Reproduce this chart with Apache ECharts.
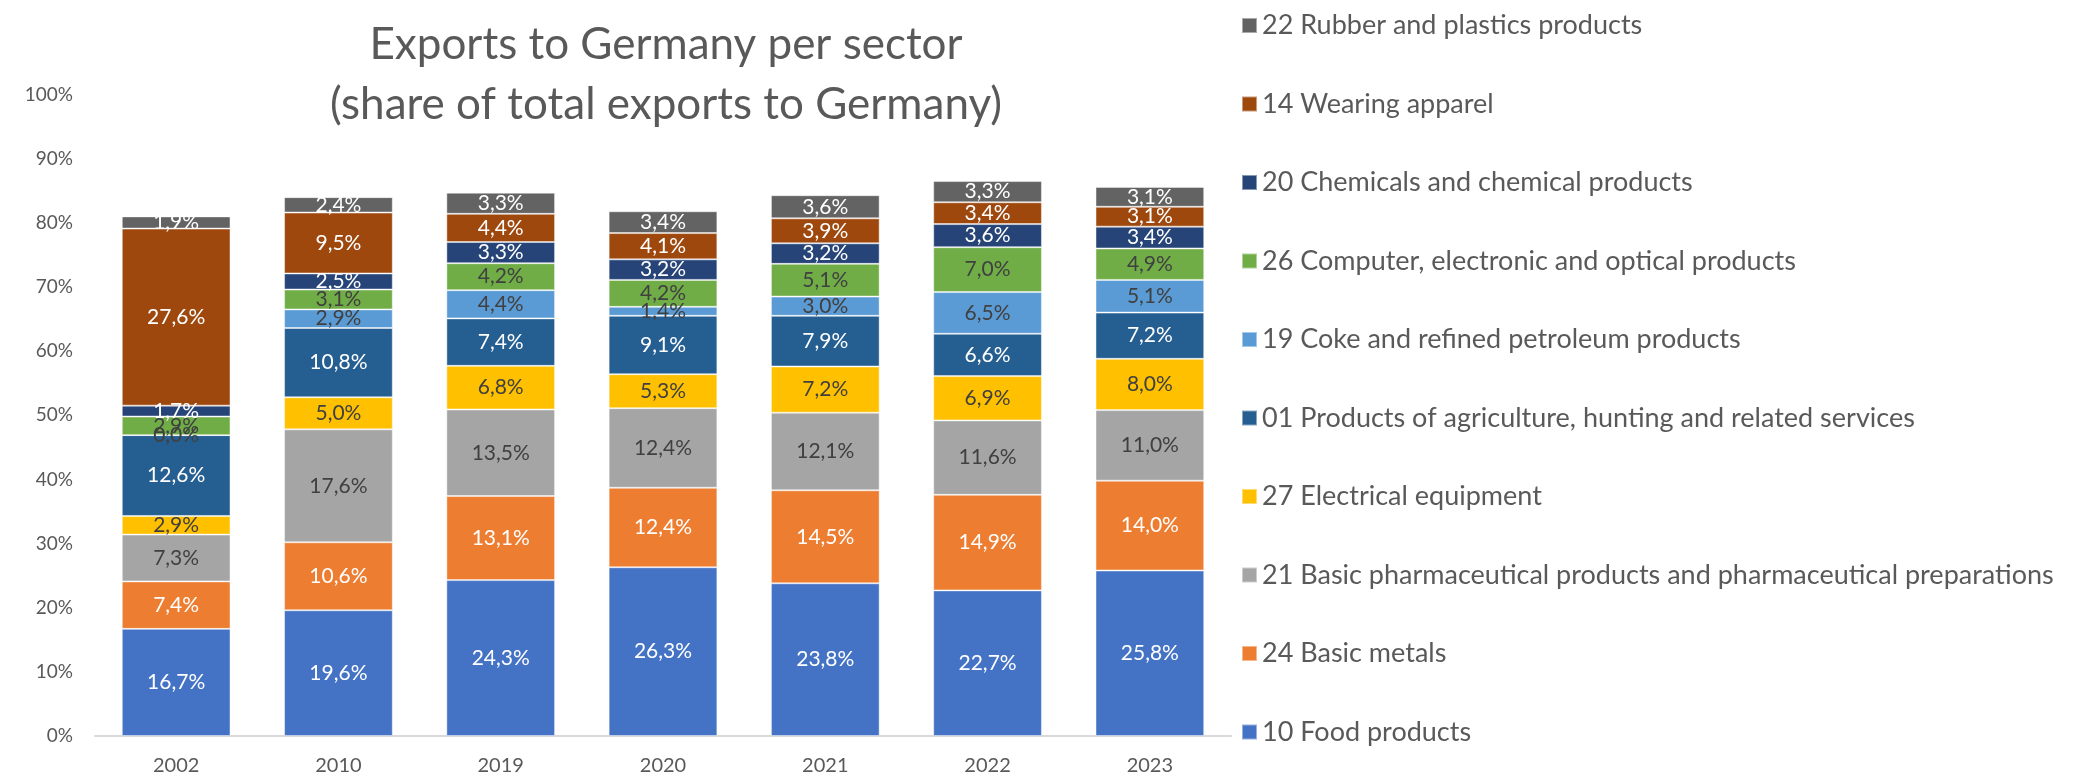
<!DOCTYPE html>
<html>
<head>
<meta charset="utf-8">
<script src="https://cdn.jsdelivr.net/npm/echarts@6/dist/echarts.min.js"></script>
<style>
  html, body { margin: 0; padding: 0; background: #fff; }
  #chart { width: 2087px; height: 781px; }
</style>
</head>
<body>
<div id="chart"></div>
<script>
// years on the x axis
var years = ['2002', '2010', '2019', '2020', '2021', '2022', '2023']

// sector shares (% of total exports to Germany), bottom of stack first
var food = [16.7, 19.6, 24.3, 26.3, 23.8, 22.7, 25.8]
var basicMetals = [7.4, 10.6, 13.1, 12.4, 14.5, 14.9, 14.0]
var pharma = [7.3, 17.6, 13.5, 12.4, 12.1, 11.6, 11.0]
var electrical = [2.9, 5.0, 6.8, 5.3, 7.2, 6.9, 8.0]
var agriculture = [12.6, 10.8, 7.4, 9.1, 7.9, 6.6, 7.2]
var coke = [0.0, 2.9, 4.4, 1.4, 3.0, 6.5, 5.1]
var computer = [2.9, 3.1, 4.2, 4.2, 5.1, 7.0, 4.9]
var chemicals = [1.7, 2.5, 3.3, 3.2, 3.2, 3.6, 3.4]
var apparel = [27.6, 9.5, 4.4, 4.1, 3.9, 3.4, 3.1]
var rubber = [1.9, 2.4, 3.3, 3.4, 3.6, 3.3, 3.1]

var yTicks = [0, 10, 20, 30, 40, 50, 60, 70, 80, 90, 100]

var sectors = [
  { name: '10 Food products', data: food, color: '#4472C4', text: '#ffffff' },
  { name: '24 Basic metals', data: basicMetals, color: '#ED7D31', text: '#ffffff' },
  { name: '21 Basic pharmaceutical products and pharmaceutical preparations', data: pharma, color: '#A5A5A5', text: '#404040' },
  { name: '27 Electrical equipment', data: electrical, color: '#FFC000', text: '#404040' },
  { name: '01 Products of agriculture, hunting and related services', data: agriculture, color: '#255E91', text: '#ffffff' },
  { name: '19 Coke and refined petroleum products', data: coke, color: '#5B9BD5', text: '#404040' },
  { name: '26 Computer, electronic and optical products', data: computer, color: '#70AD47', text: '#404040' },
  { name: '20 Chemicals and chemical products', data: chemicals, color: '#264478', text: '#ffffff' },
  { name: '14 Wearing apparel', data: apparel, color: '#9E480E', text: '#ffffff' },
  { name: '22 Rubber and plastics products', data: rubber, color: '#636363', text: '#ffffff' }
]

var FONT = 'Lato, "Open Sans", sans-serif'

function pct (v) {
  return v.toFixed(1).replace('.', ',') + '%'
}

var chart = echarts.init(document.getElementById('chart'))

var option = {
  backgroundColor: '#ffffff',
  animation: false,
  title: {
    text: 'Exports to Germany per sector\n(share of total exports to Germany)',
    left: 661,
    top: 10,
    textAlign: 'center',
    textStyle: {
      fontFamily: FONT,
      fontSize: 44,
      fontWeight: 'normal',
      color: '#595959',
      lineHeight: 60
    }
  },
  legend: {
    orient: 'vertical',
    left: 1236,
    top: 7,
    itemWidth: 15,
    itemHeight: 15,
    itemGap: 51.5,
    icon: 'rect',
    data: sectors.map(function (s) { return s.name }).reverse(),
    textStyle: {
      fontFamily: FONT,
      fontSize: 27,
      color: '#595959'
    }
  },
  grid: {
    left: 95,
    top: 94.5,
    width: 1136,
    bottom: 45
  },
  xAxis: {
    type: 'category',
    data: years,
    axisTick: { show: false },
    axisLine: { lineStyle: { color: '#d9d9d9', width: 2 } },
    axisLabel: {
      fontFamily: FONT,
      fontSize: 20,
      color: '#595959',
      margin: 20
    }
  },
  yAxis: {
    type: 'value',
    min: yTicks[0],
    max: yTicks[yTicks.length - 1],
    interval: 10,
    splitLine: { show: false },
    axisLine: { show: false },
    axisTick: { show: false },
    axisLabel: {
      fontFamily: FONT,
      fontSize: 19,
      color: '#595959',
      margin: 22,
      formatter: function (v) { return v + '%' }
    }
  },
  series: sectors.map(function (s) {
    return {
      name: s.name,
      type: 'bar',
      stack: 'total',
      barCategoryGap: '33%',
      data: s.data,
      itemStyle: {
        color: s.color,
        borderColor: 'rgba(255,255,255,0.45)',
        borderWidth: 1
      },
      label: {
        show: true,
        position: 'inside',
        fontFamily: FONT,
        fontSize: 21,
        color: s.text,
        formatter: function (p) { return pct(p.value) }
      }
    }
  })
}

chart.setOption(option)
</script>
</body>
</html>
